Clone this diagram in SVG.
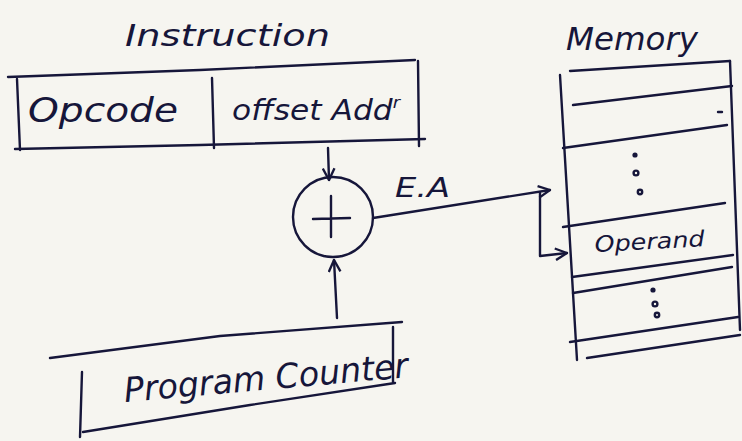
<svg xmlns="http://www.w3.org/2000/svg" width="742" height="441" viewBox="0 0 742 441">
<defs>
<style>
.ink{fill:none;stroke:#16163a;stroke-width:2.4;stroke-linecap:round;stroke-linejoin:round}
.t{fill:#16163a;font-family:"DejaVu Sans","Liberation Sans",sans-serif;font-style:italic}
</style>
<marker id="ah" viewBox="0 0 12 12" refX="11" refY="6" markerWidth="14" markerHeight="14" markerUnits="userSpaceOnUse" orient="auto">
<path d="M1,1 L11,6 L1,11" fill="none" stroke="#16163a" stroke-width="2"/>
</marker>
</defs>
<rect width="742" height="441" fill="#f6f5f0"/>
<g id="instruction">
<text class="t" x="125" y="46" font-size="30" textLength="205" lengthAdjust="spacingAndGlyphs">Instruction</text>
<path class="ink" d="M8,77 L200,70 L415,60"/>
<path class="ink" d="M17,79 L20,150"/>
<path class="ink" d="M15,149 L200,145 L425,139"/>
<path class="ink" d="M418,61 L419,146"/>
<path class="ink" d="M212,78 L214,148"/>
<text class="t" x="28" y="122" font-size="34" textLength="150" lengthAdjust="spacingAndGlyphs">Opcode</text>
<text class="t" x="232" y="120" font-size="28" textLength="168" lengthAdjust="spacingAndGlyphs">offset Add<tspan dy="-12" font-size="16">r</tspan></text>
</g>
<g id="adder">
<circle class="ink" cx="333" cy="217" r="40"/>
<path class="ink" d="M331,196 L331,237 M313,219 L350,218"/>
</g>
<g id="program-counter">
<path class="ink" d="M50,358 L220,336 L402,322"/>
<path class="ink" d="M82,372 L80,437"/>
<path class="ink" d="M83,432 L250,405 L395,383"/>
<path class="ink" d="M393,327 L393,382"/>
<text class="t" x="125" y="402" font-size="34" textLength="285" lengthAdjust="spacingAndGlyphs" transform="rotate(-5 125 402)">Program Counter</text>
</g>
<g id="memory">
<text class="t" x="566" y="50" font-size="32" textLength="132" lengthAdjust="spacingAndGlyphs">Memory</text>
<path class="ink" d="M570,71 L730,61"/>
<path class="ink" d="M560,75 L577,360"/>
<path class="ink" d="M730,61 L740,330"/>
<path class="ink" d="M573,105 L732,86"/>
<path class="ink" d="M718,112 L722,112"/>
<path class="ink" d="M563,148 L727,125"/>
<circle cx="635" cy="155" r="2.6" fill="#16163a"/>
<circle cx="636" cy="173" r="2.4" class="ink" stroke-width="1.6"/>
<circle cx="640" cy="192" r="2.2" class="ink" stroke-width="1.6"/>
<path class="ink" d="M563,227 L725,203"/>
<text class="t" x="595" y="252" font-size="22" textLength="110" lengthAdjust="spacingAndGlyphs" transform="rotate(-3 595 252)">Operand</text>
<path class="ink" d="M572,277 L733,255"/>
<path class="ink" d="M573,293 L732,267"/>
<circle cx="653" cy="290" r="2.6" fill="#16163a"/>
<circle cx="655" cy="304" r="2.4" class="ink" stroke-width="1.6"/>
<circle cx="657" cy="315" r="2.2" class="ink" stroke-width="1.6"/>
<path class="ink" d="M570,342 L738,317"/>
<path class="ink" d="M587,358 L740,335"/>
</g>
<g id="connectors">
<path class="ink" d="M328,148 L329,180" marker-end="url(#ah)"/>
<path class="ink" d="M337,318 L334,260" marker-end="url(#ah)"/>
<path class="ink" d="M373,218 L550,190" marker-end="url(#ah)"/>
<path class="ink" d="M540,193 L540,256 L567,253" marker-end="url(#ah)"/>
<text class="t" x="395" y="197" font-size="26" textLength="55" lengthAdjust="spacingAndGlyphs">E.A</text>
</g>
</svg>
